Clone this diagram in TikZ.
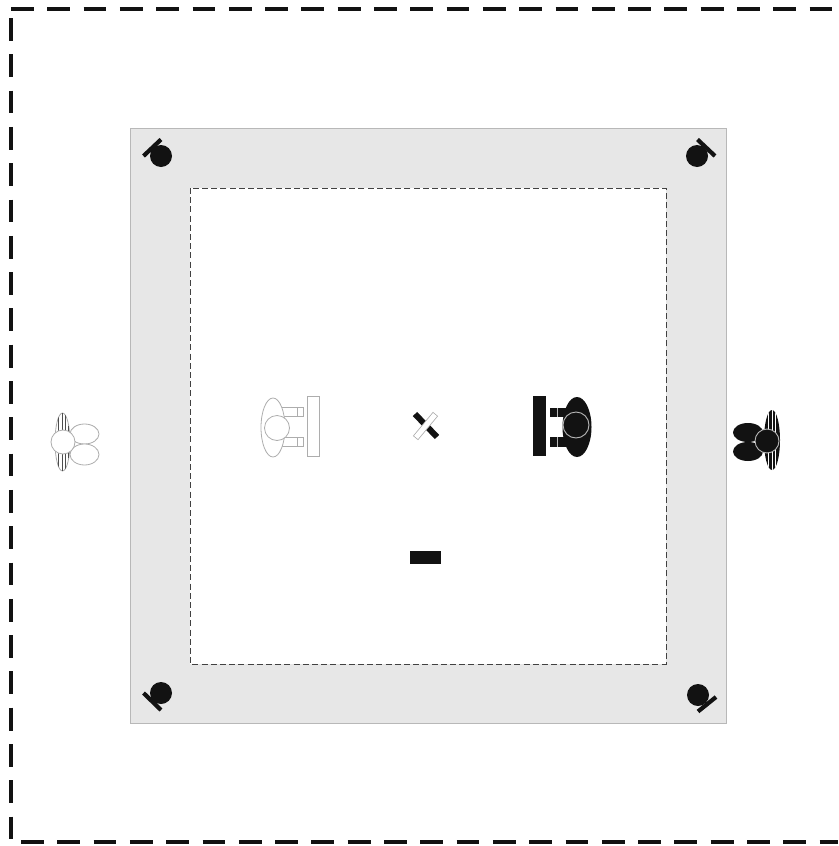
\documentclass[tikz,border=0pt]{standalone}
\definecolor{ink}{gray}{0.07}
\definecolor{pale}{gray}{0.905}
\definecolor{rim}{gray}{0.72}
\definecolor{soft}{gray}{0.68}
\tikzset{
  outerdash/.style={draw=ink,line width=3.8pt,dash pattern=on 22.8pt off 13.5pt},
  innerdash/.style={draw=ink!80,line width=1pt,dash pattern=on 6pt off 3.2pt,fill=white},
  lamp/.style={fill=ink,draw=none},
  lampbar/.style={draw=ink,line width=4.2pt},
  softline/.style={draw=soft,line width=0.8pt,fill=white},
  softthin/.style={draw=soft,line width=0.8pt},
  darkring/.style={draw=rim,line width=0.9pt,fill=ink},
}
\begin{document}
\begin{tikzpicture}[x=1pt,y=-1pt]
\useasboundingbox (0,0) rectangle (838,846);
\fill[white] (0,0) rectangle (838,846);
% outer dashed boundary
\draw[outerdash] (11,9) -- (838,9);
\draw[outerdash] (11,18) -- (11,839);
\draw[outerdash] (21,842) -- (838,842);
% stage
\draw[fill=pale,draw=rim,line width=0.9pt] (130,128) rectangle (726,723);
\draw[innerdash] (190,188) rectangle (666,664);
% corner lamps
\fill[lamp] (161,156) circle (11);
\draw[lampbar] (143.5,156) -- (161,139.5);
\fill[lamp] (697,156) circle (11);
\draw[lampbar] (697.5,139.5) -- (715,156);
\fill[lamp] (161,693) circle (11);
\draw[lampbar] (143.5,693) -- (161,710);
\fill[lamp] (698,695) circle (11);
\draw[lampbar] (698,711.5) -- (716,697);
% mark at centre
\draw[draw=ink,line width=6pt] (415,414) -- (437,437);
\draw[draw=soft,line width=6.6pt] (435.5,414) -- (415.5,438);
\draw[draw=white,line width=5pt] (435,414.6) -- (416,437.4);
% small block
\fill[ink] (410,551) rectangle (441,564);
% pale seated figure
\draw[softline] (307,396) rectangle (319,456);
\draw[softline] (279,407) rectangle (303,416);
\draw[softline] (279,437) rectangle (303,446);
\draw[softthin] (297,407) -- (297,416) (297,437) -- (297,446);
\draw[softline] (273,427.5) ellipse (12 and 29.5);
\draw[softline] (277,428) circle (12.5);
% dark seated figure
\fill[ink] (533,396) rectangle (546,456);
\fill[ink] (550,408) rectangle (571,417);
\fill[ink] (550,437) rectangle (571,447);
\draw[draw=rim,line width=0.6pt] (557,408) -- (557,417) (557,437) -- (557,447);
\fill[ink] (577,427) ellipse (14.5 and 30);
\draw[darkring] (576,425) circle (13);
% pale standing figure, left
\draw[softline] (84.5,434) ellipse (14.5 and 10);
\draw[softline] (84.5,454.5) ellipse (14.5 and 10.5);
\begin{scope}
\draw[softline] (62.5,442) ellipse (7.5 and 29);
\clip (62.5,442) ellipse (7.5 and 29);
\draw[draw=ink!75,line width=0.9pt] (58.5,410) -- (58.5,474) (62,410) -- (62,474) (65.5,410) -- (65.5,474) (68.5,410) -- (68.5,474);
\end{scope}
\draw[softline] (63,442) circle (12);
% dark standing figure, right
\fill[ink] (748,432.5) ellipse (15 and 9.5);
\fill[ink] (748,451.5) ellipse (15 and 9.5);
\begin{scope}
\fill[ink] (772,440) ellipse (8 and 30);
\clip (772,440) ellipse (8 and 30);
\draw[draw=white,line width=1pt] (768.5,408) -- (768.5,472) (772,408) -- (772,472) (775.5,408) -- (775.5,472);
\end{scope}
\draw[darkring] (767,441) circle (12);
\end{tikzpicture}
\end{document}
